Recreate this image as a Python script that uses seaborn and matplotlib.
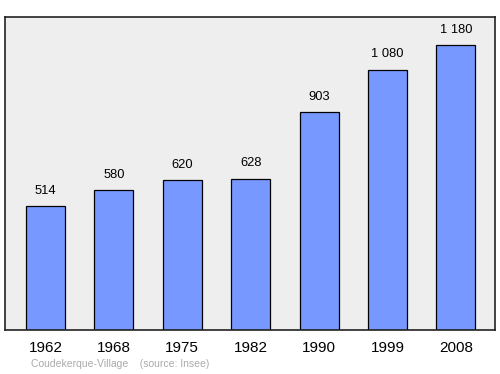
import matplotlib
matplotlib.use("Agg")
import matplotlib.pyplot as plt
import seaborn as sns
import pandas as pd

years = ["1962", "1968", "1975", "1982", "1990", "1999", "2008"]
population = [514, 580, 620, 628, 903, 1080, 1180]
labels = ["514", "580", "620", "628", "903", "1 080", "1 180"]

sns.set_style("white")
plt.rcParams['font.family'] = ['Liberation Sans', 'DejaVu Sans']

df = pd.DataFrame({"year": years, "pop": population})

fig = plt.figure(figsize=(5, 3.74), dpi=100)
ax = fig.add_axes([0.01, 0.1176, 0.98, 0.837])
sns.barplot(data=df, x="year", y="pop", ax=ax, color="#7799ff", saturation=1,
            width=0.57, edgecolor="black", linewidth=0.9)
ax.set_facecolor("#eeeeee")
ax.set_ylim(0, 1298)
ax.set_xlim(-0.59, 6.57)
ax.set_yticks([])
ax.set_xlabel("")
ax.set_ylabel("")
for s in ax.spines.values():
    s.set_visible(True)
    s.set_color("#222222")
    s.set_linewidth(1.2)
ax.tick_params(axis="x", length=0, pad=8, labelsize=11, labelcolor="black")
for i, (v, t) in enumerate(zip(population, labels)):
    ax.annotate(t, (i, v), xytext=(0, 11), textcoords="offset points",
                ha="center", va="center", fontsize=9.3, color="black")
fig.text(0.062, 0.0125, "Coudekerque-Village    (source: Insee)", color="#aaaaaa",
         fontsize=7.5, ha="left", va="bottom")
fig.savefig("out.png", dpi=100)
